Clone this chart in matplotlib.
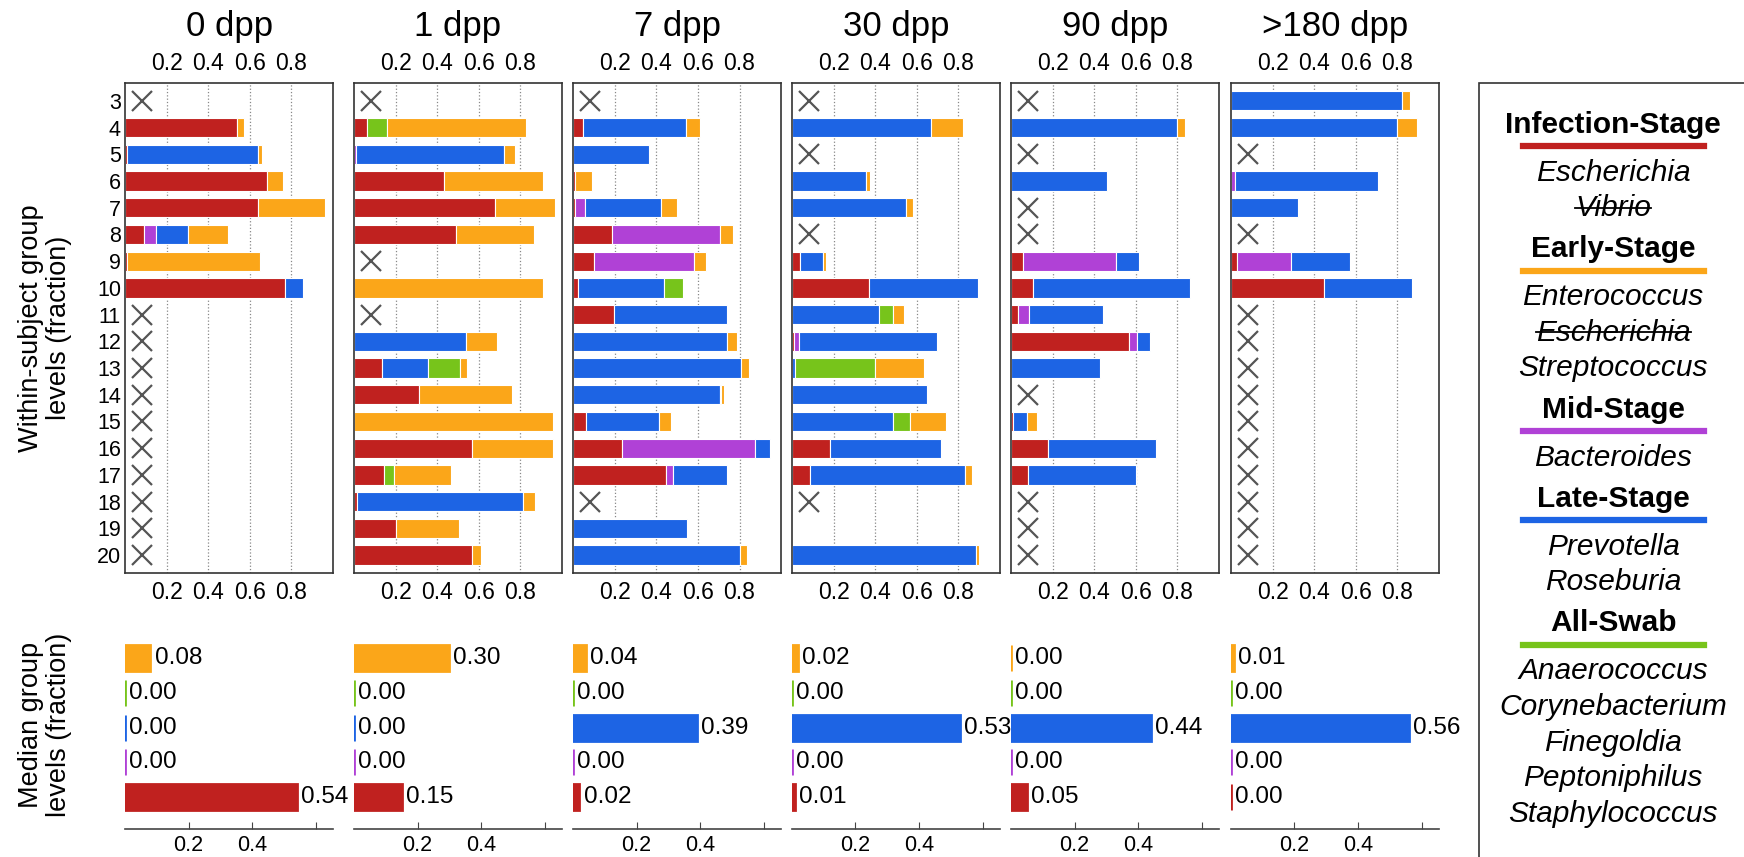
import numpy as np
import matplotlib
matplotlib.use('Agg')
import matplotlib.pyplot as plt
from matplotlib.patches import Rectangle
from matplotlib.lines import Line2D

plt.rcParams['font.family'] = ['Liberation Sans', 'DejaVu Sans']

timepoints = ['0 dpp', '1 dpp', '7 dpp', '30 dpp', '90 dpp', '>180 dpp']
subjects = list(range(3, 21))

# subjects without a sample at each time point (drawn as an x)
no_sample = [
    [3, 11, 12, 13, 14, 15, 16, 17, 18, 19, 20],
    [3, 9, 11],
    [3, 18],
    [3, 5, 8, 18],
    [3, 5, 7, 8, 14, 18, 19, 20],
    [5, 8, 11, 12, 13, 14, 15, 16, 17, 18, 19, 20],
]

# within-subject fraction of each stage group, subjects 3..20, one list per time point
infection = [
    [0, .537, .01, .68, .64, .092, .01, .771, 0, 0, 0, 0, 0, 0, 0, 0, 0, 0],
    [0, .06, 0, .432, .679, .488, 0, 0, 0, 0, .133, .31, 0, .566, .142, .016, .202, .569],
    [0, .047, 0, .01, .01, .189, .10, .026, .195, 0, 0, 0, .063, .235, .447, 0, 0, 0],
    [0, 0, 0, 0, 0, 0, .039, .37, 0, .008, 0, 0, 0, .184, .089, 0, 0, 0],
    [0, 0, 0, 0, 0, 0, .06, .105, .034, .565, 0, 0, .01, .177, .081, 0, 0, 0],
    [0, 0, 0, 0, 0, 0, .027, .448, 0, 0, 0, 0, 0, 0, 0, 0, 0, 0],
]
mid = [
    [0, 0, 0, 0, 0, .057, 0, 0, 0, 0, 0, 0, 0, 0, 0, 0, 0, 0],
    [0, 0, .01, 0, 0, 0, 0, 0, 0, 0, 0, 0, 0, 0, 0, 0, 0, 0],
    [0, 0, 0, 0, .046, .516, .48, 0, 0, 0, 0, 0, 0, .638, .034, 0, 0, 0],
    [0, 0, 0, 0, 0, 0, 0, 0, 0, .024, 0, 0, 0, 0, 0, 0, 0, 0],
    [0, 0, 0, 0, 0, 0, .443, 0, .051, .04, 0, 0, 0, 0, 0, 0, 0, 0],
    [0, 0, 0, .02, 0, 0, .263, 0, 0, 0, 0, 0, 0, 0, 0, 0, 0, 0],
]
late = [
    [0, 0, .63, 0, 0, .155, 0, .086, 0, 0, 0, 0, 0, 0, 0, 0, 0, 0],
    [0, 0, .71, 0, 0, 0, 0, 0, 0, .537, .221, 0, 0, 0, 0, .794, 0, 0],
    [0, .497, .366, 0, .368, 0, 0, .413, .547, .739, .806, .706, .35, .075, .261, 0, .547, .802],
    [0, .666, 0, .357, .55, 0, .11, .522, .42, .663, .015, .651, .488, .534, .743, 0, 0, .884],
    [0, .798, 0, .463, 0, 0, .113, .753, .355, .061, .43, 0, .066, .52, .519, 0, 0, 0],
    [.822, .80, 0, .689, .323, 0, .282, .424, 0, 0, 0, 0, 0, 0, 0, 0, 0, 0],
]
swab = [
    [0] * 18,
    [0, .097, 0, 0, 0, 0, 0, 0, 0, 0, .157, 0, 0, 0, .05, 0, 0, 0],
    [0, 0, 0, 0, 0, 0, 0, .088, 0, 0, 0, .006, 0, 0, 0, 0, 0, 0],
    [0, 0, 0, 0, 0, 0, 0, 0, .065, 0, .385, 0, .081, 0, 0, 0, 0, 0],
    [0] * 18,
    [0] * 18,
]
early = [
    [0, .034, .02, .08, .32, .192, .64, 0, 0, 0, 0, 0, 0, 0, 0, 0, 0, 0],
    [0, .67, .055, .476, .286, .377, 0, .91, 0, .152, .03, .448, .957, .392, .273, .058, .304, .042],
    [0, .066, 0, .082, .076, .066, .057, 0, 0, .051, .041, .011, .06, 0, 0, 0, 0, .033],
    [0, .154, 0, .018, .03, 0, .016, 0, .055, 0, .235, 0, .173, 0, .033, 0, 0, .013],
    [0, .037, 0, 0, 0, 0, 0, 0, 0, 0, 0, 0, .05, 0, 0, 0, 0, 0],
    [.038, .092, 0, 0, 0, 0, 0, 0, 0, 0, 0, 0, 0, 0, 0, 0, 0, 0],
]

# median group levels per time point
median_early = [.08, .30, .04, .02, .00, .01]
median_swab = [.00, .00, .00, .00, .00, .00]
median_late = [.00, .00, .39, .53, .44, .56]
median_mid = [.00, .00, .00, .00, .00, .00]
median_infection = [.54, .15, .02, .01, .05, .00]

RED = '#c0211f'
ORANGE = '#fba619'
PURPLE = '#b041d6'
BLUE = '#1d64e4'
GREEN = '#77c41b'

legend_groups = [
    ('Infection-Stage', RED, ['Escherichia', 'Vibrio']),
    ('Early-Stage', ORANGE, ['Enterococcus', 'Escherichia', 'Streptococcus']),
    ('Mid-Stage', PURPLE, ['Bacteroides']),
    ('Late-Stage', BLUE, ['Prevotella', 'Roseburia']),
    ('All-Swab', GREEN, ['Anaerococcus', 'Corynebacterium', 'Finegoldia',
                         'Peptoniphilus', 'Staphylococcus']),
]
struck = {('Infection-Stage', 'Vibrio'), ('Early-Stage', 'Escherichia')}

fig = plt.figure(figsize=(17.44, 8.57), dpi=100)

lefts = [0.0717, 0.2030, 0.3286, 0.4541, 0.5797, 0.7058]
width = 0.1193
edge = '#333333'

for i, tp in enumerate(timepoints):
    # stacked within-subject bars
    ax = fig.add_axes([lefts[i], 0.3314, width, 0.5718])
    y = np.array(subjects)
    left = np.zeros(len(subjects))
    for vals, c in zip([infection[i], mid[i], late[i], swab[i], early[i]],
                       [RED, PURPLE, BLUE, GREEN, ORANGE]):
        vals = np.array(vals, dtype=float)
        m = vals > 0
        ax.barh(y[m], vals[m], left=left[m], height=0.72, color=c,
                edgecolor='white', linewidth=0.8, zorder=2)
        left += vals
    ax.plot([0.08] * len(no_sample[i]), no_sample[i], 'x', color='#555555',
            ms=14, mew=1.6, zorder=3)
    ax.set_xlim(0, 1.0)
    ax.set_ylim(20.67, 2.33)
    ax.set_xticks([0.2, 0.4, 0.6, 0.8])
    ax.set_xticklabels(['0.2', '0.4', '0.6', '0.8'])
    ax.tick_params(axis='x', top=True, labeltop=True, bottom=True,
                   labelbottom=True, length=0, labelsize=16.5, pad=6)
    ax.grid(axis='x', linestyle=':', color='#888888', linewidth=0.9)
    ax.set_axisbelow(True)
    if i == 0:
        ax.set_yticks(subjects)
        ax.set_yticklabels([str(s) for s in subjects])
        ax.tick_params(axis='y', length=0, labelsize=15.5, pad=3)
    else:
        ax.set_yticks([])
    for sp in ax.spines.values():
        sp.set_color(edge)
        sp.set_linewidth(1.2)
    ax.text(0.5, 1.116, tp, transform=ax.transAxes, ha='center', va='center',
            fontsize=25)

    # median group levels
    axm = fig.add_axes([lefts[i], 0.0327, width, 0.2228])
    mvals = [median_early[i], median_swab[i], median_late[i], median_mid[i],
             median_infection[i]]
    mcols = [ORANGE, GREEN, BLUE, PURPLE, RED]
    ypos = np.arange(5)
    axm.barh(ypos, mvals, height=0.75, color=mcols, edgecolor=mcols, linewidth=2.0)
    for v, yy in zip(mvals, ypos):
        axm.text(v + 0.013, yy, f'{v:.2f}', va='center', ha='left',
                 fontsize=17.5, clip_on=False)
    axm.set_xlim(0, 0.655)
    axm.set_ylim(4.92, -0.58)
    for name in ['top', 'right', 'left']:
        axm.spines[name].set_visible(False)
    axm.spines['bottom'].set_color('#444444')
    axm.spines['bottom'].set_linewidth(1.2)
    axm.set_xticks([0.2, 0.4, 0.6])
    axm.set_xticklabels(['0.2', '0.4', ''])
    axm.tick_params(axis='x', direction='in', length=5, color='#444444',
                    labelsize=15.5, pad=4)
    axm.set_yticks([])

fig.text(0.026, 0.617, 'Within-subject group\nlevels (fraction)', rotation=90,
         ha='center', va='center', fontsize=19.5, linespacing=1.1)
fig.text(0.026, 0.154, 'Median group\nlevels (fraction)', rotation=90,
         ha='center', va='center', fontsize=19.5, linespacing=1.1)

# legend box with group headers, colour bars and genus names
fig.add_artist(Rectangle((0.848, -0.05), 0.2, 0.953, transform=fig.transFigure,
                         fill=False, edgecolor=edge, linewidth=1.2, clip_on=False))
cx = 0.925
yy = 0.8546
strike_texts = []
for gi, (head, col, names) in enumerate(legend_groups):
    if gi > 0:
        yy -= 0.048
    fig.text(cx, yy, head, ha='center', va='center', fontsize=21.5,
             fontweight='bold')
    yy -= 0.025
    fig.add_artist(Line2D([cx - 0.052, cx + 0.052], [yy, yy], color=col,
                          linewidth=4.5, transform=fig.transFigure))
    yy -= 0.031
    for k, nm in enumerate(names):
        if k > 0:
            yy -= 0.0415
        t = fig.text(cx, yy, nm, ha='center', va='center', fontsize=21.5,
                     style='italic')
        if (head, nm) in struck:
            strike_texts.append(t)

fig.canvas.draw()
inv = fig.transFigure.inverted()
for t in strike_texts:
    bb = t.get_window_extent()
    (x0, y0), (x1, y1) = inv.transform([[bb.x0, bb.y0], [bb.x1, bb.y1]])
    ym = y0 + (y1 - y0) * 0.52
    fig.add_artist(Line2D([x0, x1], [ym, ym], color='black', linewidth=1.3,
                          transform=fig.transFigure))

fig.savefig('out.png', dpi=100)
